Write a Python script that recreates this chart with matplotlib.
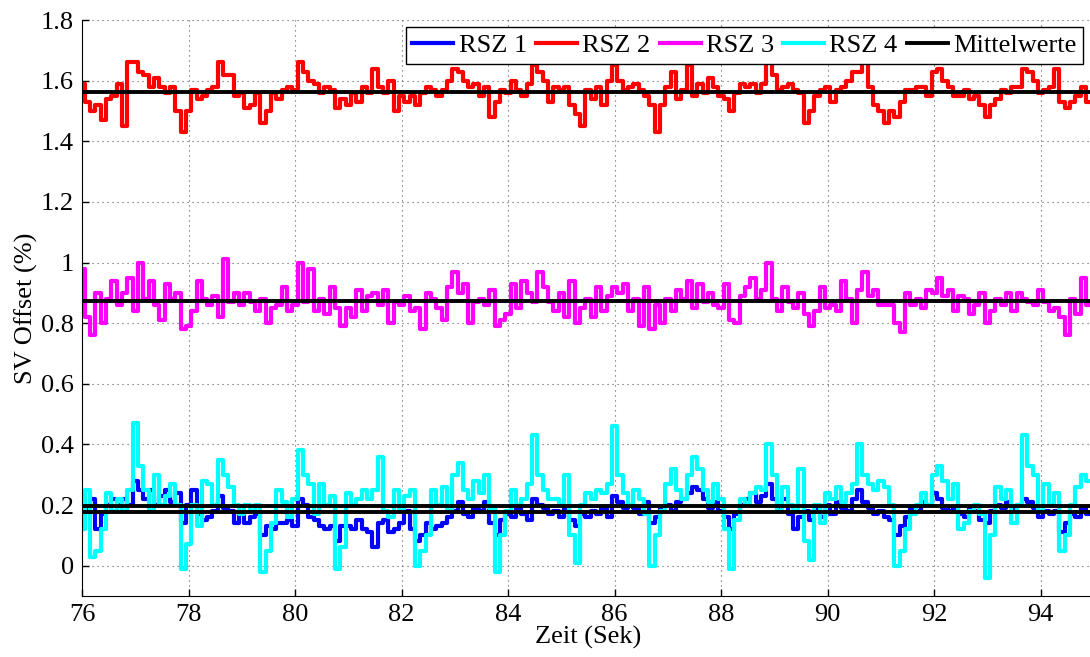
import numpy as np
import matplotlib
matplotlib.use("Agg")
import matplotlib.pyplot as plt
from matplotlib.ticker import FuncFormatter

# Abtastzeitpunkte (Sek), 0.1 s Raster
zeit = np.linspace(76, 95, 191)

# SV Offset (%) je Regelstrecke
rsz1 = [
    0.19, 0.19, 0.22, 0.12, 0.17, 0.20, 0.22, 0.20, 0.22, 0.20,
    0.28, 0.25, 0.22, 0.25, 0.20, 0.23, 0.25, 0.21, 0.24, 0.14,
    0.20, 0.25, 0.17, 0.15, 0.16, 0.18, 0.23, 0.19, 0.18, 0.14,
    0.17, 0.14, 0.16, 0.17, 0.10, 0.13, 0.12, 0.14, 0.14, 0.15,
    0.13, 0.22, 0.20, 0.16, 0.15, 0.13, 0.12, 0.13, 0.08, 0.13,
    0.13, 0.12, 0.15, 0.12, 0.11, 0.06, 0.14, 0.15, 0.11, 0.12,
    0.14, 0.18, 0.12, 0.08, 0.10, 0.14, 0.12, 0.13, 0.14, 0.16,
    0.18, 0.21, 0.17, 0.16, 0.19, 0.18, 0.21, 0.14, 0.10, 0.15,
    0.17, 0.16, 0.19, 0.17, 0.15, 0.22, 0.20, 0.19, 0.17, 0.18,
    0.16, 0.19, 0.15, 0.13, 0.17, 0.16, 0.18, 0.17, 0.19, 0.16,
    0.23, 0.21, 0.19, 0.20, 0.19, 0.17, 0.21, 0.14, 0.16, 0.19,
    0.20, 0.18, 0.21, 0.22, 0.24, 0.26, 0.25, 0.22, 0.19, 0.21,
    0.18, 0.16, 0.12, 0.17, 0.20, 0.22, 0.24, 0.21, 0.23, 0.27,
    0.22, 0.19, 0.22, 0.17, 0.12, 0.16, 0.18, 0.15, 0.19, 0.16,
    0.20, 0.17, 0.21, 0.19, 0.18, 0.22, 0.25, 0.21, 0.19, 0.17,
    0.18, 0.16, 0.15, 0.10, 0.13, 0.16, 0.19, 0.18, 0.21, 0.20,
    0.24, 0.22, 0.19, 0.18, 0.19, 0.17, 0.16, 0.19, 0.18, 0.15,
    0.14, 0.18, 0.20, 0.19, 0.21, 0.19, 0.20, 0.22, 0.21, 0.19,
    0.16, 0.18, 0.17, 0.18, 0.11, 0.14, 0.17, 0.16, 0.19, 0.17,
    0.18,
]
rsz2 = [
    1.59, 1.53, 1.50, 1.52, 1.47, 1.54, 1.55, 1.59, 1.45, 1.66,
    1.66, 1.63, 1.62, 1.58, 1.61, 1.58, 1.56, 1.58, 1.50, 1.43,
    1.50, 1.57, 1.54, 1.55, 1.57, 1.58, 1.66, 1.62, 1.62, 1.55,
    1.56, 1.51, 1.52, 1.56, 1.46, 1.50, 1.56, 1.54, 1.57, 1.58,
    1.57, 1.66, 1.63, 1.60, 1.59, 1.56, 1.58, 1.57, 1.51, 1.54,
    1.52, 1.56, 1.53, 1.58, 1.56, 1.64, 1.58, 1.56, 1.60, 1.50,
    1.55, 1.53, 1.55, 1.52, 1.56, 1.58, 1.57, 1.55, 1.57, 1.60,
    1.64, 1.63, 1.60, 1.58, 1.59, 1.55, 1.58, 1.48, 1.53, 1.57,
    1.56, 1.60, 1.57, 1.55, 1.59, 1.65, 1.63, 1.60, 1.53, 1.58,
    1.57, 1.58, 1.52, 1.49, 1.45, 1.57, 1.54, 1.58, 1.52, 1.60,
    1.65, 1.60, 1.57, 1.58, 1.59, 1.57, 1.55, 1.52, 1.43, 1.52,
    1.58, 1.63, 1.54, 1.57, 1.65, 1.55, 1.59, 1.56, 1.61, 1.58,
    1.55, 1.54, 1.50, 1.56, 1.59, 1.58, 1.59, 1.56, 1.59, 1.66,
    1.62, 1.57, 1.58, 1.59, 1.57, 1.56, 1.46, 1.50, 1.55, 1.57,
    1.58, 1.53, 1.57, 1.58, 1.60, 1.63, 1.63, 1.66, 1.58, 1.52,
    1.50, 1.46, 1.50, 1.48, 1.53, 1.57, 1.57, 1.58, 1.58, 1.55,
    1.63, 1.64, 1.60, 1.58, 1.55, 1.55, 1.57, 1.54, 1.55, 1.52,
    1.48, 1.52, 1.54, 1.57, 1.56, 1.58, 1.58, 1.64, 1.63, 1.60,
    1.56, 1.57, 1.58, 1.64, 1.53, 1.51, 1.53, 1.55, 1.58, 1.53,
    1.55,
]
rsz3 = [
    0.98, 0.82, 0.76, 0.90, 0.80, 0.88, 0.94, 0.86, 0.90, 0.95,
    0.84, 1.00, 0.88, 0.94, 0.86, 0.81, 0.93, 0.88, 0.90, 0.78,
    0.79, 0.84, 0.94, 0.88, 0.86, 0.89, 0.82, 1.01, 0.87, 0.90,
    0.86, 0.90, 0.87, 0.84, 0.88, 0.80, 0.85, 0.86, 0.92, 0.84,
    0.86, 1.00, 0.87, 0.98, 0.84, 0.88, 0.83, 0.92, 0.85, 0.79,
    0.85, 0.82, 0.91, 0.84, 0.89, 0.90, 0.86, 0.91, 0.80, 0.87,
    0.86, 0.89, 0.84, 0.85, 0.78, 0.90, 0.88, 0.85, 0.81, 0.92,
    0.97, 0.90, 0.93, 0.80, 0.87, 0.88, 0.86, 0.91, 0.79, 0.81,
    0.83, 0.93, 0.85, 0.94, 0.90, 0.87, 0.97, 0.92, 0.87, 0.84,
    0.90, 0.82, 0.94, 0.80, 0.85, 0.88, 0.82, 0.92, 0.84, 0.89,
    0.92, 0.90, 0.93, 0.84, 0.88, 0.79, 0.92, 0.78, 0.86, 0.80,
    0.88, 0.84, 0.91, 0.88, 0.94, 0.85, 0.93, 0.87, 0.90, 0.86,
    0.85, 0.93, 0.81, 0.80, 0.89, 0.92, 0.95, 0.88, 0.91, 1.00,
    0.88, 0.84, 0.92, 0.87, 0.85, 0.90, 0.83, 0.79, 0.84, 0.92,
    0.85, 0.86, 0.84, 0.94, 0.88, 0.80, 0.91, 0.97, 0.89, 0.91,
    0.86, 0.86, 0.86, 0.80, 0.77, 0.90, 0.86, 0.88, 0.85, 0.91,
    0.90, 0.95, 0.89, 0.91, 0.84, 0.89, 0.88, 0.83, 0.86, 0.90,
    0.80, 0.84, 0.88, 0.86, 0.90, 0.84, 0.90, 0.88, 0.87, 0.86,
    0.91, 0.87, 0.84, 0.85, 0.82, 0.76, 0.88, 0.83, 0.95, 0.86,
    0.85,
]
rsz4 = [
    0.12, 0.25, 0.03, 0.05, 0.12, 0.24, 0.18, 0.22, 0.18, 0.25,
    0.47, 0.33, 0.25, 0.18, 0.30, 0.20, 0.23, 0.27, 0.20, -0.01,
    0.07, 0.20, 0.13, 0.28, 0.27, 0.20, 0.35, 0.30, 0.26, 0.20,
    0.17, 0.20, 0.18, 0.20, -0.02, 0.05, 0.14, 0.25, 0.21, 0.16,
    0.22, 0.38, 0.30, 0.27, 0.17, 0.27, 0.20, 0.23, -0.01, 0.06,
    0.24, 0.20, 0.22, 0.25, 0.22, 0.25, 0.36, 0.18, 0.16, 0.25,
    0.18, 0.23, 0.25, 0.00, 0.05, 0.10, 0.25, 0.20, 0.26, 0.18,
    0.30, 0.34, 0.25, 0.22, 0.28, 0.24, 0.30, 0.19, -0.02, 0.10,
    0.18, 0.25, 0.20, 0.22, 0.27, 0.43, 0.30, 0.25, 0.22, 0.22,
    0.20, 0.30, 0.10, 0.01, 0.20, 0.24, 0.22, 0.25, 0.24, 0.27,
    0.46, 0.30, 0.24, 0.20, 0.25, 0.22, 0.17, 0.00, 0.10, 0.18,
    0.27, 0.32, 0.25, 0.22, 0.30, 0.36, 0.32, 0.25, 0.21, 0.27,
    0.22, 0.12, -0.01, 0.15, 0.22, 0.20, 0.24, 0.26, 0.25, 0.40,
    0.30, 0.18, 0.26, 0.20, 0.18, 0.32, 0.08, 0.02, 0.20, 0.14,
    0.24, 0.22, 0.26, 0.21, 0.24, 0.27, 0.40, 0.30, 0.27, 0.25,
    0.28, 0.26, 0.20, 0.00, 0.05, 0.12, 0.17, 0.20, 0.24, 0.20,
    0.30, 0.33, 0.28, 0.22, 0.27, 0.12, 0.14, 0.18, 0.20, 0.17,
    -0.04, 0.10, 0.26, 0.22, 0.25, 0.14, 0.20, 0.43, 0.33, 0.30,
    0.18, 0.27, 0.20, 0.24, 0.05, 0.10, 0.20, 0.26, 0.30, 0.28,
    0.25,
]

# Mittelwerte der vier Regelstrecken (RSZ 1..4)
mittelwerte = [0.177, 1.562, 0.874, 0.196]

namen = ["RSZ 1", "RSZ 2", "RSZ 3", "RSZ 4"]
farben = ["#0000ff", "#ff0000", "#ff00ff", "#00ffff"]

plt.rcParams["font.family"] = ["Liberation Serif", "DejaVu Serif"]

fig = plt.figure(figsize=(10.9, 6.57), dpi=100)
ax = fig.add_axes([82 / 1090, 61 / 657, 1012 / 1090, 576 / 657])

# Messwerte als Treppenkurve (abgetastetes Signal)
for werte, name, farbe in zip([rsz1, rsz2, rsz3, rsz4], namen, farben):
    ax.plot(zeit, werte, color=farbe, linewidth=3.0, label=name,
            drawstyle="steps-mid")

for i, m in enumerate(mittelwerte):
    ax.axhline(m, color="black", linewidth=2.8,
               label="Mittelwerte" if i == 0 else None)

ax.set_xlim(76, 95)
ax.set_ylim(-0.1, 1.8)
ax.set_xticks(np.arange(76, 95, 2))
ax.set_yticks(np.arange(0, 1.81, 0.2))
ax.yaxis.set_major_formatter(FuncFormatter(lambda v, p: f"{v:g}"))
ax.tick_params(direction="in", length=5, width=1, labelsize=19)
ax.tick_params(axis="x", pad=6)
ax.tick_params(axis="y", pad=6)
ax.grid(True, color="0.35", linestyle=(0, (1, 3.5)), linewidth=0.8)
ax.spines["top"].set_visible(False)
ax.spines["right"].set_visible(False)

ax.set_xlabel("Zeit (Sek)", fontsize=19, labelpad=0)
ax.set_ylabel("SV Offset (%)", fontsize=19, labelpad=2)

leg = ax.legend(loc="upper right", ncol=5, fontsize=19,
                bbox_to_anchor=(1083 / 1090, 1 - 27 / 657),
                bbox_transform=fig.transFigure, borderaxespad=0,
                frameon=True, fancybox=False, edgecolor="black",
                framealpha=1, handlelength=1.55, handletextpad=0.2,
                columnspacing=0.35, borderpad=0.25)
leg.get_frame().set_linewidth(1.0)

fig.savefig("out.png", dpi=100)
